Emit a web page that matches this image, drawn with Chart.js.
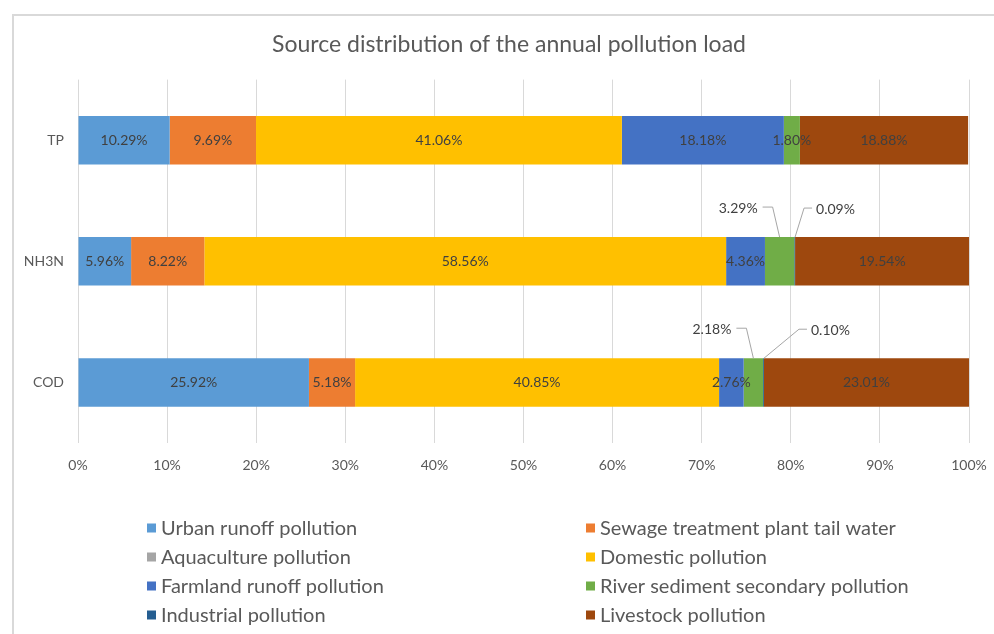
<!DOCTYPE html>
<html>
<head>
<meta charset="utf-8">
<title>Source distribution of the annual pollution load</title>
<script src="https://cdn.jsdelivr.net/npm/chart.js@4.4.1/dist/chart.umd.min.js"></script>
<style>
  html, body { margin: 0; padding: 0; background: #fff; }
  #wrap { width: 994px; height: 634px; position: relative; }
</style>
</head>
<body>
<div id="wrap"><canvas id="loadChart" width="994" height="634"></canvas></div>
<script>
// 類別與各污染來源佔比 (%)
const categories = ['TP', 'NH3N', 'COD'];
const seriesNames = [
  'Urban runoff pollution',
  'Sewage treatment plant tail water',
  'Aquaculture pollution',
  'Domestic pollution',
  'Farmland runoff pollution',
  'River sediment secondary pollution',
  'Industrial pollution',
  'Livestock pollution'
];
const urbanRunoff     = [10.29, 5.96, 25.92];
const sewageTailWater = [9.69, 8.22, 5.18];
const aquaculture     = [0, 0, 0];
const domestic        = [41.06, 58.56, 40.85];
const farmlandRunoff  = [18.18, 4.36, 2.76];
const riverSediment   = [1.80, 3.29, 2.18];
const industrial      = [0, 0.09, 0.10];
const livestock       = [18.88, 19.54, 23.01];
const xTickValues     = [0, 10, 20, 30, 40, 50, 60, 70, 80, 90, 100];

const seriesValues = [urbanRunoff, sewageTailWater, aquaculture, domestic,
                      farmlandRunoff, riverSediment, industrial, livestock];
const seriesColors = ['#5B9BD5', '#ED7D31', '#A5A5A5', '#FFC000',
                      '#4472C4', '#70AD47', '#255E91', '#9E480E'];

// 小區塊改用引線標示 (dataset index, category index)
const callouts = [
  { ds: 5, idx: 1, side: 'left' },
  { ds: 6, idx: 1, side: 'right', reach: 9 },
  { ds: 5, idx: 2, side: 'left' },
  { ds: 6, idx: 2, side: 'right', reach: 35 }
];

const FONT = 'Lato, "Open Sans", sans-serif';

// 外框
const framePlugin = {
  id: 'frame',
  beforeDraw(chart) {
    const ctx = chart.ctx;
    ctx.save();
    ctx.fillStyle = '#fff';
    ctx.fillRect(0, 0, chart.width, chart.height);
    ctx.strokeStyle = '#d9d9d9';
    ctx.lineWidth = 2;
    ctx.strokeRect(13, 15, chart.width + 20, chart.height + 20);
    ctx.restore();
  }
};

// 資料標籤
const labelPlugin = {
  id: 'segLabels',
  afterDatasetsDraw(chart) {
    const ctx = chart.ctx;
    ctx.save();
    ctx.font = '14px ' + FONT;
    ctx.fillStyle = '#404040';
    ctx.strokeStyle = '#a6a6a6';
    ctx.lineWidth = 1;
    chart.data.datasets.forEach((ds, i) => {
      const meta = chart.getDatasetMeta(i);
      meta.data.forEach((bar, j) => {
        const v = ds.data[j];
        if (!v) return;
        const text = v.toFixed(2) + '%';
        const p = bar.getProps(['x', 'y', 'base', 'height'], true);
        const c = callouts.find(o => o.ds === i && o.idx === j);
        if (!c) {
          ctx.textAlign = 'center';
          ctx.textBaseline = 'middle';
          ctx.fillText(text, (p.x + p.base) / 2, p.y);
          return;
        }
        const top = p.y - p.height / 2;
        ctx.beginPath();
        if (c.side === 'left') {
          const cx = (p.x + p.base) / 2;
          ctx.moveTo(cx, top);
          ctx.lineTo(cx - 7, top - 30);
          ctx.lineTo(cx - 17, top - 30);
          ctx.stroke();
          ctx.textAlign = 'right';
          ctx.textBaseline = 'middle';
          ctx.fillText(text, cx - 22, top - 29);
        } else {
          const ex = p.x;
          ctx.moveTo(ex, top);
          ctx.lineTo(ex + c.reach, top - 29);
          ctx.lineTo(ex + c.reach + 8, top - 29);
          ctx.stroke();
          ctx.textAlign = 'left';
          ctx.textBaseline = 'middle';
          ctx.fillText(text, ex + c.reach + 12, top - 28);
        }
      });
    });
    ctx.restore();
  }
};

// 兩欄圖例
const legendPlugin = {
  id: 'twoColLegend',
  afterDraw(chart) {
    const ctx = chart.ctx;
    ctx.save();
    ctx.font = '20px ' + FONT;
    ctx.textAlign = 'left';
    ctx.textBaseline = 'middle';
    chart.data.datasets.forEach((ds, i) => {
      const col = i % 2;
      const row = Math.floor(i / 2);
      const bx = col === 0 ? 147 : 586;
      const y = 528 + row * 29;
      ctx.fillStyle = ds.backgroundColor;
      ctx.fillRect(bx, y - 4.5, 9, 9);
      ctx.fillStyle = '#595959';
      ctx.fillText(ds.label, bx + 14, y + 1);
    });
    ctx.restore();
  }
};

const datasets = seriesNames.map((name, i) => ({
  label: name,
  data: seriesValues[i],
  backgroundColor: seriesColors[i],
  borderWidth: 0,
  categoryPercentage: 0.8,
  barPercentage: 0.5
}));

const config = {
  type: 'bar',
  data: { labels: categories, datasets: datasets },
  options: {
    indexAxis: 'y',
    responsive: false,
    animation: false,
    layout: { padding: { left: 24, right: 0, top: 0, bottom: 0 } },
    plugins: {
      legend: { display: false },
      tooltip: { enabled: false },
      title: {
        display: true,
        text: 'Source distribution of the annual pollution load',
        color: '#595959',
        font: { family: FONT, size: 23, weight: 'normal' },
        padding: { top: 31, bottom: 21 }
      }
    },
    scales: {
      x: {
        stacked: true,
        min: 0,
        max: 100,
        afterBuildTicks: axis => { axis.ticks = xTickValues.map(v => ({ value: v })); },
        afterFit: axis => {
          axis.height = 191;
          axis.paddingLeft = 0;
          axis.paddingRight = 25;
        },
        grid: { color: '#d9d9d9', drawTicks: false },
        border: { display: false },
        ticks: {
          padding: 14,
          color: '#595959',
          font: { family: FONT, size: 14 },
          callback: v => v + '%'
        }
      },
      y: {
        stacked: true,
        afterFit: axis => { axis.width = 54; },
        grid: { display: false, drawTicks: false },
        border: { display: false },
        ticks: {
          padding: 14,
          color: '#595959',
          font: { family: FONT, size: 14 }
        }
      }
    }
  },
  plugins: [framePlugin, labelPlugin, legendPlugin]
};

const ctx = document.getElementById('loadChart').getContext('2d');
const myChart = new Chart(ctx, config);
</script>
</body>
</html>
